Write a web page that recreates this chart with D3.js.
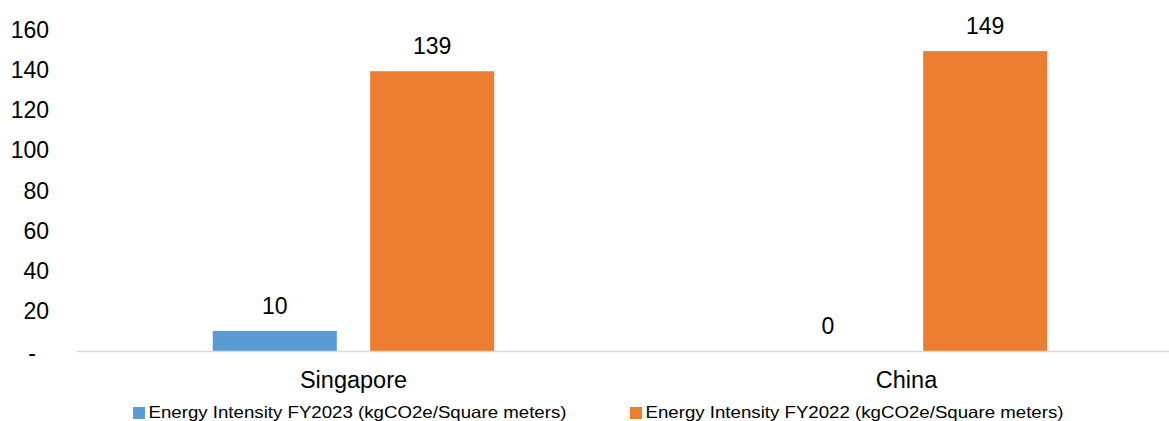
<!DOCTYPE html>
<html>
<head>
<meta charset="utf-8">
<script src="https://cdn.jsdelivr.net/npm/d3@7"></script>
<style>
  html, body { margin: 0; padding: 0; background: #fff; }
  svg { display: block; font-family: Arial, "Liberation Sans", sans-serif; }
</style>
</head>
<body>
<svg id="chart" width="1169" height="421"></svg>
<script>
const categories = ["Singapore", "China"];
const seriesNames = [
  "Energy Intensity FY2023 (kgCO2e/Square meters)",
  "Energy Intensity FY2022 (kgCO2e/Square meters)"
];
const fy2023 = [10, 0];
const fy2022 = [139, 149];
const tickValues = [0, 20, 40, 60, 80, 100, 120, 140, 160];
const tickLabels = ["-", "20", "40", "60", "80", "100", "120", "140", "160"];
const colors = ["#5B9BD5", "#ED7D31"];

const seriesValues = [fy2023, fy2022];

const svg = d3.select("#chart");
const plotLeft = 77, plotRight = 1183, plotTop = 29, plotBottom = 351;

const x0 = d3.scaleBand().domain(categories).range([plotLeft, plotRight]).paddingInner(0).paddingOuter(0);
const x1 = d3.scaleBand().domain(d3.range(seriesNames.length)).range([0, x0.bandwidth()])
  .paddingInner(0.212).paddingOuter(0.8627);
const y = d3.scaleLinear().domain([0, 160]).range([plotBottom, plotTop]);

// Y axis (labels only)
const yAxis = d3.axisLeft(y).tickValues(tickValues).tickSize(0).tickPadding(0)
  .tickFormat((d, i) => tickLabels[i]);
const yg = svg.append("g").attr("transform", "translate(49,0)").call(yAxis);
yg.select(".domain").remove();
yg.selectAll("text")
  .attr("font-size", 23)
  .attr("fill", "#000")
  .attr("font-family", "Arial, 'Liberation Sans', sans-serif")
  .attr("x", d => d === 0 ? -13 : 0)
  .attr("dy", d => d === 0 ? "0.42em" : "0.35em");

// Bars
const groups = svg.append("g").selectAll("g.cat")
  .data(categories)
  .join("g")
  .attr("class", "cat")
  .attr("transform", d => `translate(${x0(d)},0)`);

groups.each(function(cat, ci) {
  const g = d3.select(this);
  const items = seriesValues.map((vals, si) => ({ si, v: vals[ci] }));
  g.selectAll("rect")
    .data(items)
    .join("rect")
    .attr("x", d => x1(d.si))
    .attr("width", x1.bandwidth())
    .attr("y", d => y(d.v))
    .attr("height", d => y(0) - y(d.v))
    .attr("fill", d => colors[d.si]);
  g.selectAll("text.val")
    .data(items)
    .join("text")
    .attr("class", "val")
    .attr("x", d => x1(d.si) + x1.bandwidth() / 2)
    .attr("y", d => y(d.v) - 17)
    .attr("text-anchor", "middle")
    .attr("font-size", 23)
    .attr("fill", "#000")
    .text(d => d.v);
});

// X axis line
svg.append("line")
  .attr("x1", plotLeft).attr("x2", 1169)
  .attr("y1", y(0) + 0.5).attr("y2", y(0) + 0.5)
  .attr("stroke", "#d9d9d9").attr("stroke-width", 1.5);

// Category labels
svg.append("g").selectAll("text")
  .data(categories)
  .join("text")
  .attr("x", d => x0(d) + x0.bandwidth() / 2)
  .attr("y", 388)
  .attr("text-anchor", "middle")
  .attr("font-size", 23.5)
  .attr("fill", "#000")
  .text(d => d);

// Legend
const legendX = [133, 630];
const lg = svg.append("g").selectAll("g")
  .data(seriesNames)
  .join("g")
  .attr("transform", (d, i) => `translate(${legendX[i]},0)`);
lg.append("rect")
  .attr("x", 0).attr("y", 407).attr("width", 12).attr("height", 12)
  .attr("fill", (d, i) => colors[i]);
lg.append("text")
  .attr("x", 15.5).attr("y", 418)
  .attr("font-size", 16.5)
  .attr("fill", "#000")
  .attr("textLength", 418)
  .attr("lengthAdjust", "spacingAndGlyphs")
  .text(d => d);
</script>
</body>
</html>
